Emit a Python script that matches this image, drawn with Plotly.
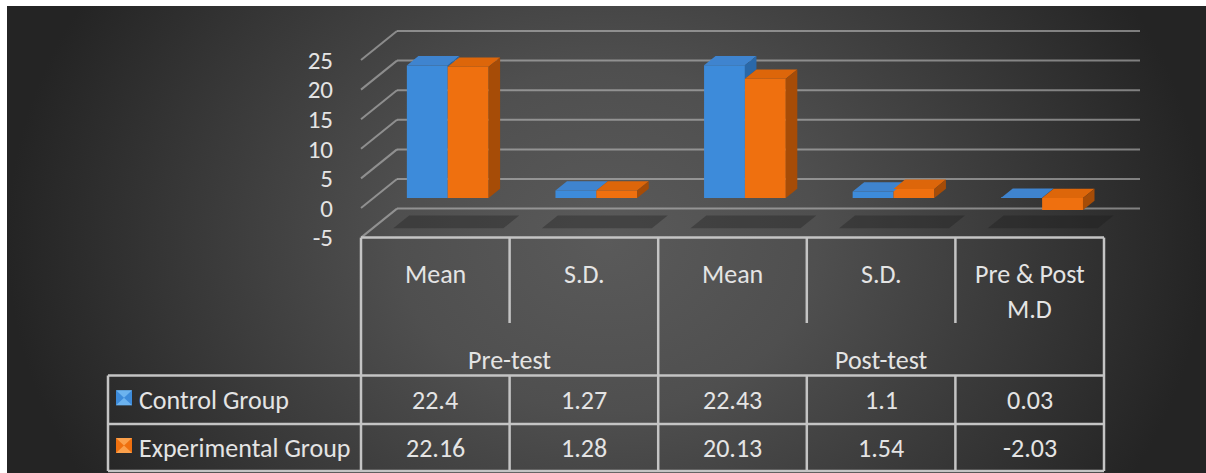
import plotly.graph_objects as go

# ---------------------------------------------------------------- data
stat_labels = ["Mean", "S.D.", "Mean", "S.D.", "Pre & Post<br>M.D"]
period_labels = ["Pre-test", "Post-test"]
period_columns = [(0, 1), (2, 4)]          # first / last column of each period
series_names = ["Control Group", "Experimental Group"]
control = [22.4, 1.27, 22.43, 1.1, 0.03]
experimental = [22.16, 1.28, 20.13, 1.54, -2.03]
y_ticks = [-5, 0, 5, 10, 15, 20, 25]

# ---------------------------------------------------------------- style
W, H = 1206, 473
FONT = "Carlito, Calibri, 'Liberation Sans', Arial, sans-serif"
TEXT = "#e4e4e4"
GRID = "rgba(200,200,200,0.55)"
TABLE_LINE = "#c4c4c4"
BLUE = dict(front="#3d8bda", top="#3f84cf", side="#2a68a8", light="#7cc0f5")
ORANGE = dict(front="#ef700f", top="#dd660a", side="#a64c07", light="#ffb060")

# oblique 3-D projection of the plot box (pixel geometry of the frame)
FRONT_LEFT_PX = 361.0      # front-left corner of the floor
COL_PX = 148.6             # width of one category column
ZERO_PY = 208.0            # value 0 on the front plane
UNIT_PX = 5.92             # pixels per value unit
DEPTH_PX = (36.0, 29.0)    # full wall depth: right / up
BAR_FRONT = 0.345          # depth of the bars' front faces (fraction)
BAR_DEPTH = 0.32           # thickness of the bars (fraction)
BAR_W = 0.275              # bar width in category units

DU = DEPTH_PX[0] / COL_PX
DV = DEPTH_PX[1] / UNIT_PX
n_cat = len(stat_labels)
y_lo, y_hi = min(y_ticks), max(y_ticks)

x_range = [-0.5 - FRONT_LEFT_PX / COL_PX, -0.5 + (W - FRONT_LEFT_PX) / COL_PX]
y_range = [(ZERO_PY - H) / UNIT_PX, ZERO_PY / UNIT_PX]


def py(p):
    """pixel row -> paper y"""
    return 1 - p / H


def px(p):
    return p / W


fig = go.Figure()

# ---------------------------------------------------------------- backdrop (radial shading)
fig.add_trace(go.Scatter(
    x=[7, W, W, 7, 7], y=[-250, -250, 730, 730, -250],
    mode="lines", line=dict(width=0), fill="toself",
    fillgradient=dict(type="radial", colorscale=[[0, "#5a5a5a"], [0.35, "#4f4f4f"],
                                                 [0.7, "#383838"], [1, "#242424"]]),
    hoverinfo="skip", showlegend=False, xaxis="x", yaxis="y"))

# ---------------------------------------------------------------- bars (front faces)
bar_x = [i + BAR_FRONT * DU for i in range(n_cat)]
bar_base = BAR_FRONT * DV
for name, vals, col, off in [(series_names[0], control, BLUE, -BAR_W),
                             (series_names[1], experimental, ORANGE, 0.0)]:
    fig.add_trace(go.Bar(
        x=bar_x, y=vals, base=[bar_base] * n_cat, width=BAR_W, offset=off,
        marker=dict(color=col["front"], line=dict(width=0)),
        name=name, showlegend=False, xaxis="x2", yaxis="y2"))

# ---------------------------------------------------------------- bars (top / side faces)
bu, bv = BAR_DEPTH * DU, BAR_DEPTH * DV


def polys_to_xy(polys):
    xs, ys = [], []
    for poly in polys:
        for (a, b) in poly + [poly[0]]:
            xs.append(a)
            ys.append(b)
        xs.append(None)
        ys.append(None)
    return xs, ys


def add_faces(polys, color):
    if not polys:
        return
    xs, ys = polys_to_xy(polys)
    fig.add_trace(go.Scatter(x=xs, y=ys, mode="lines", line=dict(width=0),
                             fill="toself", fillcolor=color, hoverinfo="skip",
                             showlegend=False, xaxis="x2", yaxis="y2"))


b_top, b_side, o_top, o_side = [], [], [], []
for i in range(n_cat):
    # control bar (left)
    xl = bar_x[i] - BAR_W
    xr = bar_x[i]
    yb = bar_base + min(control[i], 0)
    yt = bar_base + max(control[i], 0)
    b_top.append([(xl, yt), (xr, yt), (xr + bu, yt + bv), (xl + bu, yt + bv)])
    # its right side only shows above the neighbouring bar
    y_cut = max(yb, bar_base + max(experimental[i], 0))
    if yt > y_cut:
        b_side.append([(xr, y_cut), (xr, yt), (xr + bu, yt + bv), (xr + bu, y_cut + bv)])
    # experimental bar (right)
    xl2, xr2 = bar_x[i], bar_x[i] + BAR_W
    yb2 = bar_base + min(experimental[i], 0)
    yt2 = bar_base + max(experimental[i], 0)
    o_top.append([(xl2, yt2), (xr2, yt2), (xr2 + bu, yt2 + bv), (xl2 + bu, yt2 + bv)])
    o_side.append([(xr2, yb2), (xr2, yt2), (xr2 + bu, yt2 + bv), (xr2 + bu, yb2 + bv)])

add_faces(b_top, BLUE["top"])
add_faces(b_side, BLUE["side"])
add_faces(o_top, ORANGE["top"])
add_faces(o_side, ORANGE["side"])

# ---------------------------------------------------------------- walls, gridlines, floor shadows
shapes = []
x_left, x_right = -0.5, n_cat - 0.5
for v in y_ticks:
    # back wall
    shapes.append(dict(type="line", xref="x2", yref="y2", layer="below",
                       x0=x_left + DU, x1=x_right + DU, y0=v + DV, y1=v + DV,
                       line=dict(color=GRID, width=2)))
    # side wall
    shapes.append(dict(type="line", xref="x2", yref="y2", layer="below",
                       x0=x_left, x1=x_left + DU, y0=v, y1=v + DV,
                       line=dict(color=GRID, width=2)))

for i in range(n_cat):
    d0, d1 = 0.32, 0.76
    u0, u1 = i - 0.36, i + 0.38
    pts = [(u0 + d0 * DU, y_lo + d0 * DV), (u1 + d0 * DU, y_lo + d0 * DV),
           (u1 + d1 * DU, y_lo + d1 * DV), (u0 + d1 * DU, y_lo + d1 * DV)]
    path = "M " + " L ".join(f"{a},{b}" for a, b in pts) + " Z"
    shapes.append(dict(type="path", xref="x2", yref="y2", layer="below", path=path,
                       fillcolor="rgba(25,25,25,0.33)", line=dict(width=0)))

# ---------------------------------------------------------------- data table
ROW_TOP, ROW_MID, ROW_BOT = 375.5, 424.0, 471.0
HEADER_CUT = 323.0
TABLE_LEFT = 108.0
table_top = y_lo  # floor front edge

# top edge of the table = front edge of the floor
shapes.append(dict(type="line", xref="x2", yref="y2", x0=x_left, x1=x_right,
                   y0=table_top, y1=table_top, line=dict(color=TABLE_LINE, width=2.5)))
y_top_paper = 1 - (ZERO_PY - y_lo * UNIT_PX) / H
# column borders
period_edges = {period_columns[0][0] - 0.5} | {c[1] + 0.5 for c in period_columns}
for k in range(n_cat + 1):
    u = k - 0.5
    if u in period_edges:
        shapes.append(dict(type="line", xref="x2", yref="paper", x0=u, x1=u,
                           y0=y_top_paper, y1=py(ROW_BOT),
                           line=dict(color=TABLE_LINE, width=2.5)))
    else:
        shapes.append(dict(type="line", xref="x2", yref="paper", x0=u, x1=u,
                           y0=y_top_paper, y1=py(HEADER_CUT),
                           line=dict(color=TABLE_LINE, width=2.5)))
        shapes.append(dict(type="line", xref="x2", yref="paper", x0=u, x1=u,
                           y0=py(ROW_TOP), y1=py(ROW_BOT),
                           line=dict(color=TABLE_LINE, width=2.5)))
# row borders
for r in (ROW_TOP, ROW_MID, ROW_BOT):
    shapes.append(dict(type="line", xref="paper", yref="paper",
                       x0=px(TABLE_LEFT), x1=px(FRONT_LEFT_PX + n_cat * COL_PX),
                       y0=py(r), y1=py(r), line=dict(color=TABLE_LINE, width=2.5)))
shapes.append(dict(type="line", xref="paper", yref="paper",
                   x0=px(TABLE_LEFT), x1=px(TABLE_LEFT), y0=py(ROW_TOP), y1=py(ROW_BOT),
                   line=dict(color=TABLE_LINE, width=2.5)))

# legend keys inside the table
row_centers = [(ROW_TOP + ROW_MID) / 2, (ROW_MID + ROW_BOT) / 2]
for rc, col in zip(row_centers, [BLUE, ORANGE]):
    k0, k1 = 116, 132
    t0, t1 = rc - 9.5, rc + 5.5
    shapes.append(dict(type="rect", xref="paper", yref="paper",
                       x0=px(k0), x1=px(k1), y0=py(t0), y1=py(t1),
                       fillcolor=col["front"], line=dict(width=0)))
    cx, cy = (k0 + k1) / 2, (t0 + t1) / 2
    for ya in (t0, t1):
        path = (f"M {px(k0)},{py(ya)} L {px(k1)},{py(ya)} "
                f"L {px(cx)},{py(cy)} Z")
        shapes.append(dict(type="path", xref="paper", yref="paper", path=path,
                           fillcolor=col["light"], opacity=0.75, line=dict(width=0)))

annotations = []
tfont = dict(family=FONT, size=26, color=TEXT)
for i, lab in enumerate(stat_labels):
    for k, line in enumerate(lab.split("<br>")):
        annotations.append(dict(xref="x2", yref="paper", x=i, y=py(274 + 35 * k),
                                text=line, showarrow=False, font=tfont,
                                xanchor="center", yanchor="middle"))
for lab, (c0, c1) in zip(period_labels, period_columns):
    annotations.append(dict(xref="x2", yref="paper", x=(c0 + c1) / 2, y=py(360),
                            text=lab, showarrow=False, font=tfont,
                            xanchor="center", yanchor="middle"))
for rc, name, vals in zip(row_centers, series_names, [control, experimental]):
    annotations.append(dict(xref="paper", yref="paper", x=px(137), y=py(rc),
                            text=name, showarrow=False, font=tfont,
                            xanchor="left", yanchor="middle"))
    for i, v in enumerate(vals):
        annotations.append(dict(xref="x2", yref="paper", x=i, y=py(rc),
                                text=f"{v:g}", showarrow=False, font=tfont,
                                xanchor="center", yanchor="middle"))

# ---------------------------------------------------------------- layout
fig.update_layout(
    width=W, height=H, margin=dict(l=0, r=0, t=0, b=0),
    paper_bgcolor="white", plot_bgcolor="rgba(0,0,0,0)",
    barmode="overlay", showlegend=False,
    xaxis=dict(domain=[7 / W, 1], range=[7, W], visible=False, fixedrange=True),
    yaxis=dict(domain=[0, 1 - 6 / H], range=[H, 6], visible=False, fixedrange=True),
    xaxis2=dict(domain=[0, 1], range=x_range, visible=False, anchor="y2"),
    yaxis2=dict(domain=[0, 1], range=y_range, anchor="free", position=px(333),
                tickvals=y_ticks, ticktext=[str(t) for t in y_ticks],
                showgrid=False, zeroline=False, showline=False, ticks="",
                tickfont=dict(family=FONT, size=25, color=TEXT)),
    shapes=shapes, annotations=annotations,
)

fig.write_html("out.html")
